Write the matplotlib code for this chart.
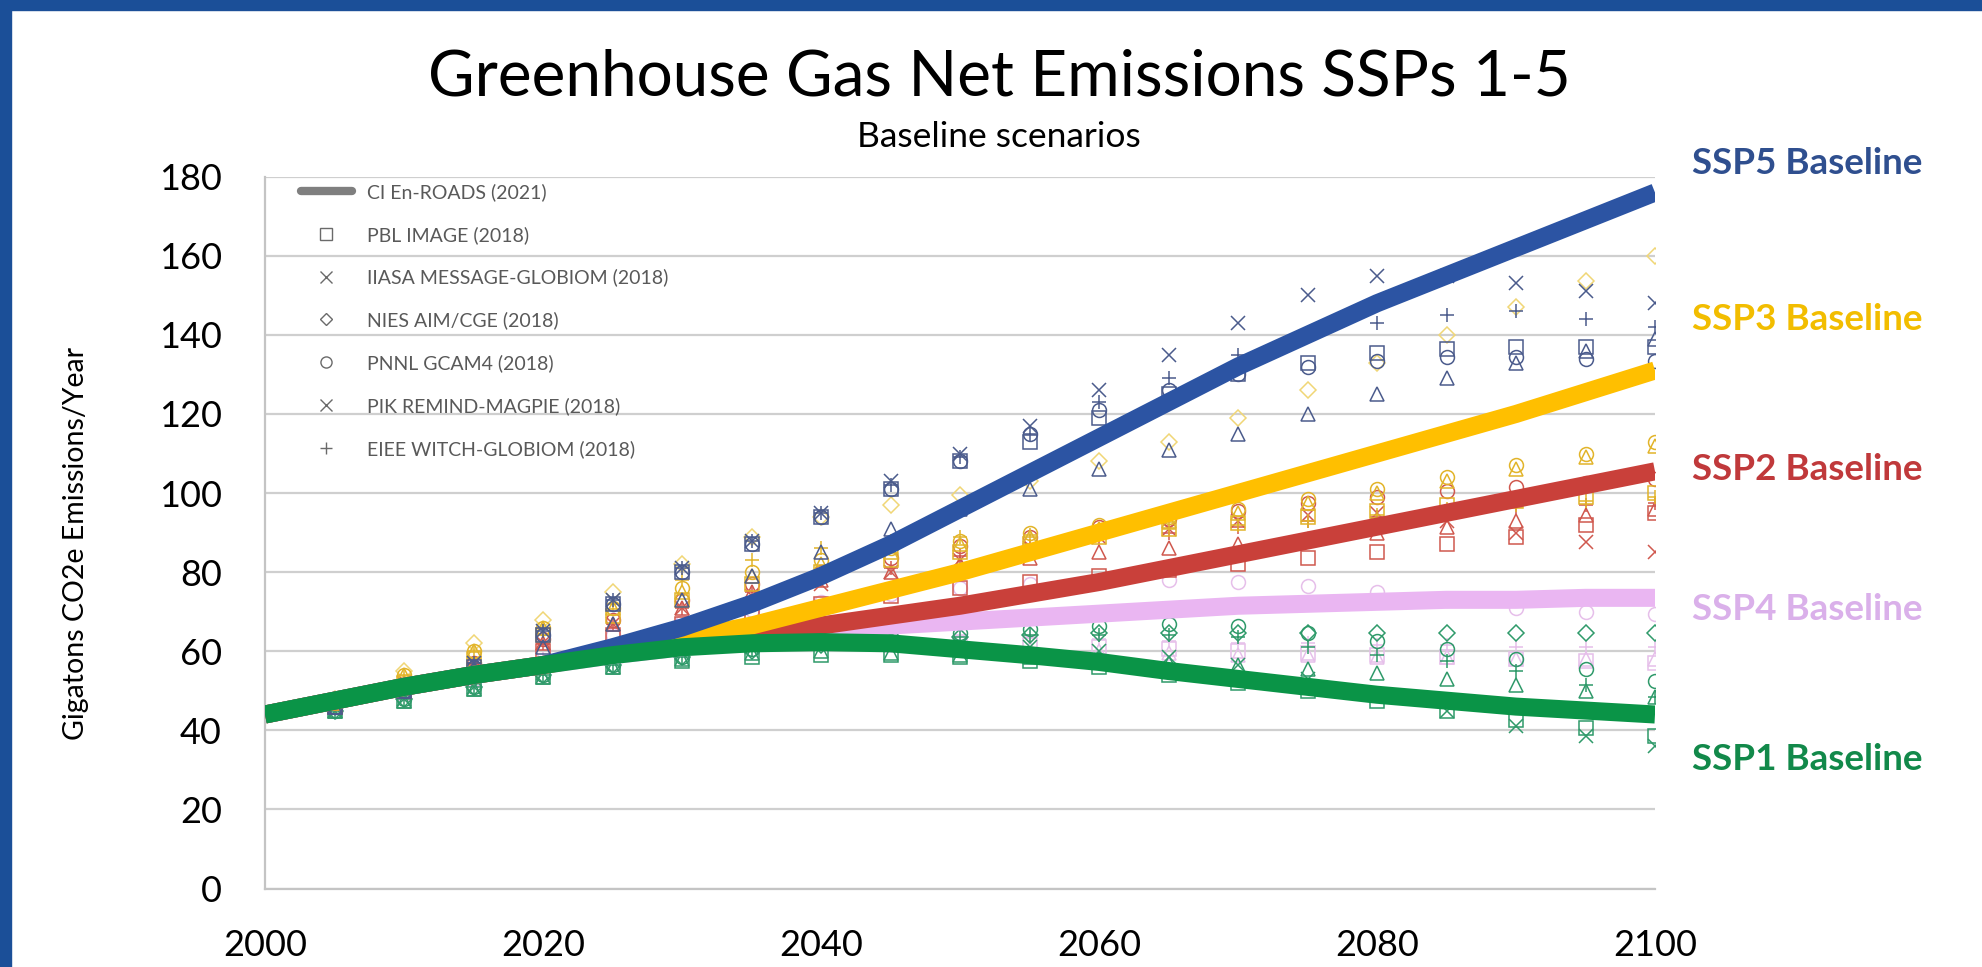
import matplotlib
matplotlib.use('Agg')
import matplotlib.pyplot as plt
from matplotlib.lines import Line2D
from matplotlib.patches import Rectangle

plt.rcParams['font.family'] = ['Lato', 'DejaVu Sans']

# thick En-ROADS lines, every 5 years from 2000
line_years = list(range(2000, 2101, 5))
enroads = {
    'SSP1': [44, 47.5, 51, 54, 56.5, 59, 61, 62, 62.3, 62, 60.5, 59, 57.3, 55, 53, 51, 49, 47.5, 46, 45, 44],
    'SSP2': [44, 47.5, 51, 54, 56.5, 59.5, 61.5, 64, 66.5, 69, 71.5, 74.5, 77.5, 81, 84.5, 88, 91.5, 95, 98.5, 102, 105.5],
    'SSP3': [44, 47.5, 51, 54, 56.5, 60, 63, 66.5, 71, 75.5, 80, 85, 90, 95, 100, 105, 110, 115, 120, 125.5, 131],
    'SSP4': [44, 47.5, 51, 54, 56.5, 59, 61, 63, 65, 66.5, 67.5, 68.5, 69.5, 70.5, 71.5, 72, 72.5, 73, 73, 73.5, 73.5],
    'SSP5': [44, 47.5, 51, 54, 56.5, 61, 66, 72, 79, 87, 96, 105, 114, 123, 132, 140, 148, 155, 162, 169, 176],
}

# IAM model baselines, every 5 years from 2005
model_years = list(range(2005, 2101, 5))
ssp5_models = {
    's': [46, 50, 56, 64, 72, 80, 87, 94, 101, 108, 113, 119, 125, 130, 133, 135.5, 136.5, 137, 137, 137],
    'x': [47, 51, 57, 65, 73, 81, 88, 95, 103, 110, 117, 126, 135, 143, 150, 155, 155, 153, 151, 148],
    'o': [46, 50, 56, 64, 72, 80, 87, 94, 101, 108, 115, 121, 126, 130, 132, 133.5, 134.5, 134.5, 134, 133.5],
    '^': [46, 50, 55, 61, 67, 73, 79, 85, 91, 96, 101, 106, 111, 115, 120, 125, 129, 133, 136, 139],
    '+': [47, 51, 57, 65, 73, 81, 88, 95, 102, 109, 115, 123, 129, 135, 140, 143, 145, 146, 144, 142],
}
ssp3_models = {
    's': [47, 52, 58, 64, 69, 73, 77, 80, 83, 85, 87, 89, 91, 92.5, 94, 95.5, 97, 98, 99, 100],
    'D': [48, 55, 62, 68, 75, 82, 89, 94, 97, 99.5, 103, 108, 113, 119, 126, 133, 140, 147, 153.5, 160],
    'o': [48, 54, 60, 66, 71, 76, 80, 83, 86, 88, 90, 92, 94, 96, 98.5, 101, 104, 107, 110, 113],
    '^': [48, 54, 60, 66, 71, 75, 79, 82, 85, 87, 89, 91, 93, 95, 97.5, 100, 103, 106, 109, 112],
    '+': [48, 54, 60, 66, 72, 78, 83, 86, 88, 89, 89.5, 90, 91, 92, 93, 94.5, 96, 97, 98, 99],
}
ssp2_models = {
    's': [46, 50, 55, 60, 64, 67, 70, 72, 74, 76, 77.5, 79, 80.5, 82, 83.5, 85, 87, 89, 92, 95],
    'x': [47, 52, 57, 62, 67, 71, 74, 77, 80, 83, 86, 89, 91, 93, 94.5, 95, 93, 90, 87.5, 85],
    'o': [47, 52, 57, 63, 68, 73, 77, 80, 83.5, 86.5, 89, 91.5, 93.5, 95.5, 97.5, 99, 100.5, 101.5, 102.5, 103.5],
    '^': [47, 52, 57, 62, 67, 71, 75, 78, 80, 82, 83.5, 85, 86, 87, 88.5, 90, 91.5, 93, 94.5, 96],
    '+': [47, 52, 57, 62, 67, 71, 75, 78, 81, 84, 86.5, 88.5, 90, 91.5, 93, 94, 95.5, 96.5, 97, 97.5],
}
ssp4_models = {
    's': [46, 49.5, 53, 56.5, 59, 61, 62, 62.5, 62.5, 62, 61.5, 61, 60.5, 60, 59.5, 59, 58.5, 58, 57.5, 57],
    'o': [46, 50, 55, 60, 64, 67.5, 70.5, 72.5, 74.5, 76, 77, 77.5, 78, 77.5, 76.5, 75, 73, 71, 70, 69.5],
    '^': [46, 49.5, 53, 57, 60, 61.5, 62, 62, 61.5, 61, 60.5, 60, 59.5, 59, 59, 58.5, 58.5, 58, 58, 58],
    '+': [46, 50, 54, 58, 61, 63, 64, 64.5, 64.5, 64, 63.5, 63, 62.5, 62, 62, 61.5, 61.5, 61, 61, 61],
}
ssp1_models = {
    's': [45, 47.5, 50.5, 53.5, 56, 57.5, 58.5, 59, 59, 58.5, 57.5, 56, 54, 52, 50, 47.5, 45, 42.5, 40.5, 38.5],
    'x': [45, 48, 51, 54.5, 57.5, 59.5, 61, 62, 62, 61.5, 61, 60, 58.5, 56.5, 53, 49, 45, 41, 38.5, 36],
    'D': [45, 48, 51, 54, 56.5, 58.5, 60, 61.5, 62.5, 63.5, 64, 64.5, 64.5, 64.5, 64.5, 64.5, 64.5, 64.5, 64.5, 64.5],
    'o': [45, 48, 51, 54, 56.5, 58.5, 60.5, 62, 63.5, 64.5, 65.5, 66.5, 67, 66.5, 64.5, 62.5, 60.5, 58, 55.5, 52.5],
    '^': [45, 47.5, 50.5, 53.5, 56, 58, 59.5, 60, 59.5, 59, 58.5, 58, 57, 56.5, 55.5, 54.5, 53, 51.5, 50, 48.5],
    '+': [45, 48, 51, 54, 56.5, 58.5, 60.5, 62, 63, 63.5, 64, 64, 64, 63.5, 61, 59, 57.5, 55, 51.5, 48.5],
}

legend_labels = ['CI En-ROADS (2021)', 'PBL IMAGE (2018)', 'IIASA MESSAGE-GLOBIOM (2018)',
                 'NIES AIM/CGE (2018)', 'PNNL GCAM4 (2018)', 'PIK REMIND-MAGPIE (2018)',
                 'EIEE WITCH-GLOBIOM (2018)']
ssp_labels = ['SSP5 Baseline', 'SSP3 Baseline', 'SSP2 Baseline', 'SSP4 Baseline', 'SSP1 Baseline']

line_colors = {'SSP1': '#0a9447', 'SSP2': '#c9403a', 'SSP3': '#ffbf00', 'SSP4': '#eab6f2', 'SSP5': '#2c54a3'}
marker_colors = {'SSP1': '#2f9a6a', 'SSP2': '#d0584e', 'SSP3': '#e2b42a', 'SSP4': '#e6bfea', 'SSP5': '#4b5b8c'}
label_colors = ['#2f4f8f', '#f2bd00', '#c0393b', '#dab0ea', '#12894a']

fig = plt.figure(figsize=(19.82, 9.67), dpi=100)
fig.patch.set_facecolor('white')
# blue slide frame
fig.patches.append(Rectangle((0, 0), 11 / 1982, 1, transform=fig.transFigure, color='#1b4f98', zorder=0))
fig.patches.append(Rectangle((0, 1 - 10 / 967), 1, 10 / 967, transform=fig.transFigure, color='#1b4f98', zorder=0))

ax = fig.add_axes([265 / 1982, 1 - 888.5 / 967, (1655 - 265) / 1982, (888.5 - 176.7) / 967])

# markers
for ssp, models in [('SSP4', ssp4_models), ('SSP1', ssp1_models), ('SSP2', ssp2_models),
                    ('SSP3', ssp3_models), ('SSP5', ssp5_models)]:
    for mk, vals in models.items():
        col = marker_colors[ssp]
        if ssp == 'SSP3' and mk == 'D':
            col = '#f0d676'
        ms = 8 if mk == 'D' else 10
        ax.plot(model_years, vals, linestyle='none', marker=mk, markersize=ms,
                markerfacecolor='none', markeredgecolor=col, markeredgewidth=1.1, zorder=2)

# thick lines
for ssp in ['SSP4', 'SSP2', 'SSP3', 'SSP5', 'SSP1']:
    ax.plot(line_years, enroads[ssp], color=line_colors[ssp], lw=13, solid_capstyle='butt', zorder=3)

ax.set_xlim(2000, 2100)
ax.set_ylim(0, 180)
ax.set_xticks(range(2000, 2101, 20))
ax.set_yticks(range(0, 181, 20))
ax.grid(axis='y', color='#cfcfcf', lw=1.6)
ax.set_axisbelow(True)
for s in ['top', 'right']:
    ax.spines[s].set_visible(False)
for s in ['left', 'bottom']:
    ax.spines[s].set_color('#c4c4c4')
    ax.spines[s].set_linewidth(1.6)
ax.tick_params(length=0, labelsize=26, colors='black')
ax.tick_params(axis='y', pad=31)
ax.tick_params(axis='x', pad=29)

# legend (drawn to match the original legend symbols)
handles = [Line2D([], [], color='#7f7f7f', lw=6, solid_capstyle='round')]
for mk in ['s', 'x', 'D', 'o', 'x', '+']:
    handles.append(Line2D([], [], linestyle='none', marker=mk, markersize=8 if mk != 'D' else 6,
                          markerfacecolor='none', markeredgecolor='#6a6a6a', markeredgewidth=1.0))
leg = ax.legend(handles, legend_labels, loc='upper left', bbox_to_anchor=(301 / 1982, 1 - 183 / 967),
                bbox_transform=fig.transFigure, frameon=False, fontsize=14, labelcolor='#595959',
                handlelength=2.6, handletextpad=0.8, labelspacing=1.28, borderpad=0, borderaxespad=0)

fig.text(999 / 1982, 1 - 77 / 967, 'Greenhouse Gas Net Emissions SSPs 1-5', ha='center', va='center', fontsize=46)
fig.text(999 / 1982, 1 - 137 / 967, 'Baseline scenarios', ha='center', va='center', fontsize=25.5)
fig.text(76 / 1982, 1 - 543 / 967, 'Gigatons CO2e Emissions/Year', rotation=90, ha='center', va='center', fontsize=20.5)

label_y = [164, 320, 470, 610, 760]
for txt, yy, col in zip(ssp_labels, label_y, label_colors):
    fig.text(1692 / 1982, 1 - yy / 967, txt, ha='left', va='center', fontsize=26.5, fontweight='bold', color=col)

fig.savefig('out.png', dpi=100)
